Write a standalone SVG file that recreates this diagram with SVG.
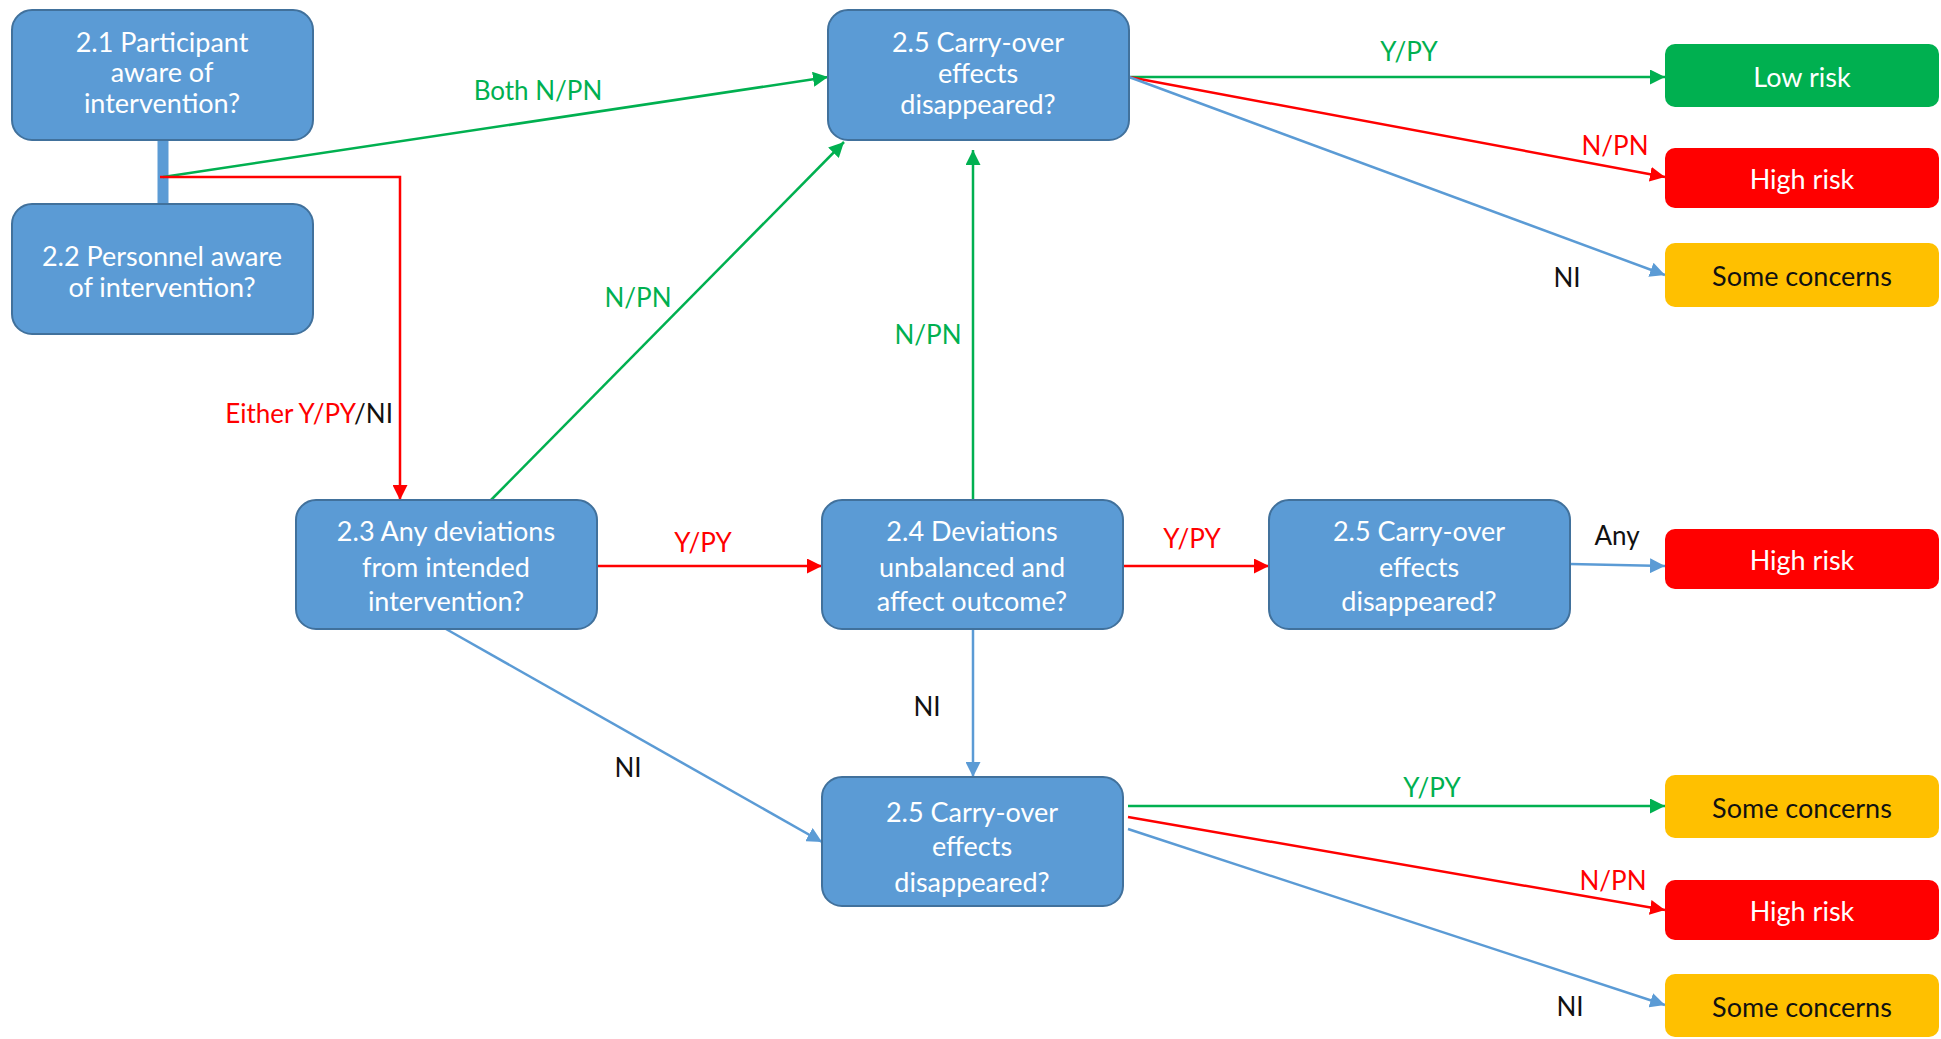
<svg xmlns="http://www.w3.org/2000/svg" width="1941" height="1039" viewBox="0 0 1941 1039">
  <style>
    .node rect { fill: #5B9BD5; stroke: #41719C; stroke-width: 2; }
    .node text { fill: #ffffff; font-family: Lato, "Open Sans", sans-serif; font-size: 27px; text-anchor: middle; dominant-baseline: central; }
    .res text { font-family: Lato, "Open Sans", sans-serif; font-size: 27px; text-anchor: middle; dominant-baseline: central; }
    .low rect { fill: #00B050; }
    .high rect { fill: #FF0000; }
    .some rect { fill: #FFC000; }
    .low text, .high text { fill: #ffffff; }
    .some text { fill: #111111; }
    .lbl { font-family: Lato, "Open Sans", sans-serif; font-size: 26px; text-anchor: middle; dominant-baseline: central; }
    .lbl.end { text-anchor: end; }
    .g { stroke: #00B050; }
    .r { stroke: #FF0000; }
    .b { stroke: #5B9BD5; }
    #connectors path, #connectors line { fill: none; stroke-width: 2.5; }
    .tg { fill: #00B050; }
    .tr { fill: #FF0000; }
    .tk { fill: #111111; }
  </style>
  <defs>
    <marker id="ag" viewBox="0 0 10 10" refX="10" refY="5" markerWidth="6" markerHeight="6" markerUnits="strokeWidth" orient="auto">
      <path d="M0,0 L10,5 L0,10 z" fill="#00B050"/>
    </marker>
    <marker id="ar" viewBox="0 0 10 10" refX="10" refY="5" markerWidth="6" markerHeight="6" markerUnits="strokeWidth" orient="auto">
      <path d="M0,0 L10,5 L0,10 z" fill="#FF0000"/>
    </marker>
    <marker id="ab" viewBox="0 0 10 10" refX="10" refY="5" markerWidth="6" markerHeight="6" markerUnits="strokeWidth" orient="auto">
      <path d="M0,0 L10,5 L0,10 z" fill="#5B9BD5"/>
    </marker>
  </defs>

  <!-- connectors -->
  <g id="connectors">
    <!-- stem joining 2.1 and 2.2 -->
    <line x1="163" y1="140" x2="163" y2="204" style="stroke:#5B9BD5;stroke-width:11"/>
    <line class="g" x1="163" y1="177" x2="828" y2="77" marker-end="url(#ag)"/>
    <path class="r" d="M160,177 H400 V500" marker-end="url(#ar)"/>

    <!-- from upper 2.5 -->
    <line class="g" x1="1129" y1="77" x2="1665" y2="77" marker-end="url(#ag)"/>
    <line class="r" x1="1129" y1="77" x2="1665" y2="177" marker-end="url(#ar)"/>
    <line class="b" x1="1129" y1="77" x2="1665" y2="275" marker-end="url(#ab)"/>

    <!-- from 2.3 -->
    <line class="g" x1="491" y1="500" x2="844" y2="142" marker-end="url(#ag)"/>
    <line class="r" x1="597" y1="566" x2="822" y2="566" marker-end="url(#ar)"/>
    <line class="b" x1="446" y1="629" x2="822" y2="842" marker-end="url(#ab)"/>

    <!-- from 2.4 -->
    <line class="g" x1="973" y1="500" x2="973" y2="150" marker-end="url(#ag)"/>
    <line class="r" x1="1123" y1="566" x2="1269" y2="566" marker-end="url(#ar)"/>
    <line class="b" x1="973" y1="629" x2="973" y2="777" marker-end="url(#ab)"/>

    <!-- from middle 2.5 -->
    <line class="b" x1="1570" y1="564" x2="1665" y2="566" marker-end="url(#ab)"/>

    <!-- from lower 2.5 -->
    <line class="g" x1="1128" y1="806" x2="1665" y2="806" marker-end="url(#ag)"/>
    <line class="r" x1="1128" y1="817" x2="1665" y2="910" marker-end="url(#ar)"/>
    <line class="b" x1="1128" y1="829" x2="1665" y2="1005" marker-end="url(#ab)"/>

    <!-- connector labels -->
    <text class="lbl tg" x="538" y="90">Both N/PN</text>
    <text class="lbl end" x="393" y="413"><tspan class="tr">Either Y/PY</tspan><tspan class="tk">/NI</tspan></text>
    <text class="lbl tg" x="1409" y="51">Y/PY</text>
    <text class="lbl tr" x="1615" y="145">N/PN</text>
    <text class="lbl tk" x="1567" y="277">NI</text>
    <text class="lbl tg" x="638" y="297">N/PN</text>
    <text class="lbl tr" x="703" y="542">Y/PY</text>
    <text class="lbl tg" x="928" y="334">N/PN</text>
    <text class="lbl tr" x="1192" y="538">Y/PY</text>
    <text class="lbl tk" x="1617" y="535">Any</text>
    <text class="lbl tk" x="927" y="706">NI</text>
    <text class="lbl tk" x="628" y="767">NI</text>
    <text class="lbl tg" x="1432" y="787">Y/PY</text>
    <text class="lbl tr" x="1613" y="880">N/PN</text>
    <text class="lbl tk" x="1570" y="1006">NI</text>
  </g>

  <!-- question nodes -->
  <g id="q21" class="node">
    <rect x="12" y="10" width="301" height="130" rx="20"/>
    <text x="162" y="41">2.1 Participant</text>
    <text x="162" y="71">aware of</text>
    <text x="162" y="102">intervention?</text>
  </g>
  <g id="q22" class="node">
    <rect x="12" y="204" width="301" height="130" rx="20"/>
    <text x="162" y="255">2.2 Personnel aware</text>
    <text x="162" y="286">of intervention?</text>
  </g>
  <g id="q25a" class="node">
    <rect x="828" y="10" width="301" height="130" rx="20"/>
    <text x="978" y="41">2.5 Carry-over</text>
    <text x="978" y="72">effects</text>
    <text x="978" y="103">disappeared?</text>
  </g>
  <g id="q23" class="node">
    <rect x="296" y="500" width="301" height="129" rx="20"/>
    <text x="446" y="530">2.3 Any deviations</text>
    <text x="446" y="566">from intended</text>
    <text x="446" y="600">intervention?</text>
  </g>
  <g id="q24" class="node">
    <rect x="822" y="500" width="301" height="129" rx="20"/>
    <text x="972" y="530">2.4 Deviations</text>
    <text x="972" y="566">unbalanced and</text>
    <text x="972" y="600">affect outcome?</text>
  </g>
  <g id="q25b" class="node">
    <rect x="1269" y="500" width="301" height="129" rx="20"/>
    <text x="1419" y="530">2.5 Carry-over</text>
    <text x="1419" y="566">effects</text>
    <text x="1419" y="600">disappeared?</text>
  </g>
  <g id="q25c" class="node">
    <rect x="822" y="777" width="301" height="129" rx="20"/>
    <text x="972" y="811">2.5 Carry-over</text>
    <text x="972" y="845">effects</text>
    <text x="972" y="881">disappeared?</text>
  </g>

  <!-- outcome nodes -->
  <g id="r1" class="res low">
    <rect x="1665" y="44" width="274" height="63" rx="10"/>
    <text x="1802" y="76">Low risk</text>
  </g>
  <g id="r2" class="res high">
    <rect x="1665" y="148" width="274" height="60" rx="10"/>
    <text x="1802" y="178">High risk</text>
  </g>
  <g id="r3" class="res some">
    <rect x="1665" y="243" width="274" height="64" rx="10"/>
    <text x="1802" y="275">Some concerns</text>
  </g>
  <g id="r4" class="res high">
    <rect x="1665" y="529" width="274" height="60" rx="10"/>
    <text x="1802" y="559">High risk</text>
  </g>
  <g id="r5" class="res some">
    <rect x="1665" y="775" width="274" height="63" rx="10"/>
    <text x="1802" y="807">Some concerns</text>
  </g>
  <g id="r6" class="res high">
    <rect x="1665" y="880" width="274" height="60" rx="10"/>
    <text x="1802" y="910">High risk</text>
  </g>
  <g id="r7" class="res some">
    <rect x="1665" y="974" width="274" height="63" rx="10"/>
    <text x="1802" y="1006">Some concerns</text>
  </g>
</svg>
